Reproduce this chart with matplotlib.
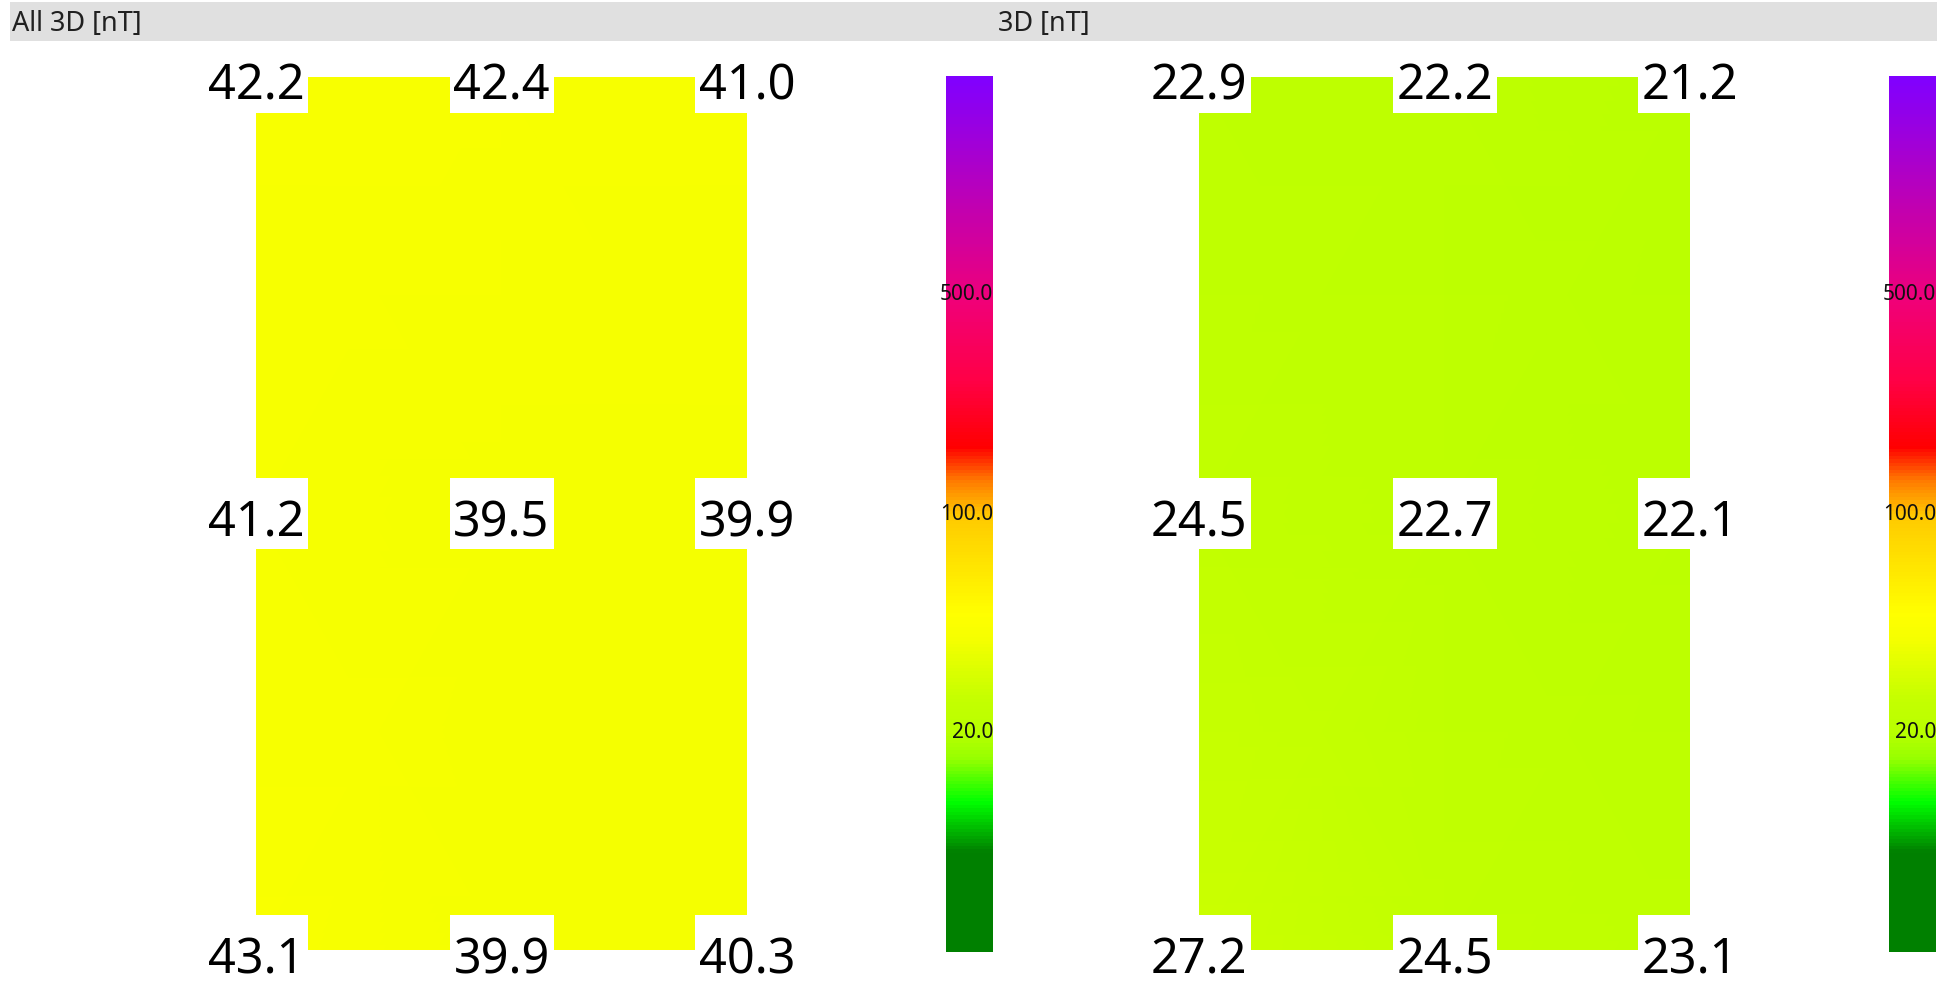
import matplotlib
matplotlib.use("Agg")
import matplotlib.pyplot as plt
import matplotlib.colors as mcolors
import matplotlib.transforms as mtransforms
from matplotlib.patches import Rectangle
from matplotlib.cm import ScalarMappable

plt.rcParams['font.family'] = ['Noto Sans', 'DejaVu Sans']

# valores de los puntos de medida (fila superior, media, inferior)
titulos = ['All 3D [nT]', '3D [nT]']
valores_all3d = [[42.2, 42.4, 41.0],
                 [41.2, 39.5, 39.9],
                 [43.1, 39.9, 40.3]]
valores_3d = [[22.9, 22.2, 21.2],
              [24.5, 22.7, 22.1],
              [27.2, 24.5, 23.1]]
escala_min = 4
escala_max = 2500
ticks_escala = [20, 100, 500]

# mapa de colores de la escala (verde -> amarillo -> rojo -> violeta)
H = 876.0
paradas = [
    (0.0, (0, 128, 0)),
    ((952 - 853) / H, (0, 128, 0)),
    ((952 - 803) / H, (0, 255, 0)),
    ((952 - 760) / H, (150, 255, 0)),
    ((952 - 734) / H, (184, 255, 0)),
    ((952 - 700) / H, (196, 255, 0)),
    ((952 - 640) / H, (245, 255, 0)),
    ((952 - 615) / H, (255, 255, 0)),
    ((952 - 540) / H, (255, 215, 0)),
    ((952 - 515) / H, (255, 200, 0)),
    ((952 - 480) / H, (255, 120, 0)),
    ((952 - 447) / H, (255, 0, 0)),
    ((952 - 380) / H, (255, 0, 70)),
    ((952 - 300) / H, (240, 0, 120)),
    (1.0, (128, 0, 255)),
]
cmap = mcolors.LinearSegmentedColormap.from_list(
    'escala', [(p, tuple(c / 255 for c in col)) for p, col in paradas])
norm = mcolors.LogNorm(vmin=escala_min, vmax=escala_max)

W, Hfig = 1944, 981
fig = plt.figure(figsize=(W / 100, Hfig / 100), dpi=100)


def rect(x0, y0, x1, y1):
    return [x0 / W, 1 - y1 / Hfig, (x1 - x0) / W, (y1 - y0) / Hfig]


# barra gris de cabecera
fig.patches.append(Rectangle((10 / W, 1 - 41 / Hfig), (1937 - 10) / W, 39 / Hfig,
                             transform=fig.transFigure, facecolor='#e0e0e0',
                             edgecolor='none', zorder=0))

paneles = [valores_all3d, valores_3d]
offsets = [0, 943]
titulo_x = [12, 998]

for datos, titulo, dx, tx in zip(paneles, titulos, offsets, titulo_x):
    fig.text(tx / W, 1 - 24 / Hfig, titulo, fontsize=19.5, va='center', ha='left',
             color='#202020')

    ax = fig.add_axes(rect(256 + dx, 77, 747 + dx, 950))
    xs = [0, 1, 2]
    ys = [0, 1, 2]
    ax.pcolormesh(xs, ys, datos, shading='gouraud', cmap=cmap, norm=norm)
    ax.set_xlim(0, 2)
    ax.set_ylim(2, 0)
    ax.axis('off')

    trans = mtransforms.offset_copy(ax.transData, fig=fig, x=0, y=-23, units='dots')
    for i, fila in enumerate(datos):
        for j, v in enumerate(fila):
            etiqueta = f'{v:.1f}'
            # caja blanca centrada en el punto de medida
            caja = Rectangle((-52, -35.5), 104, 71, facecolor='white', edgecolor='none',
                             transform=mtransforms.ScaledTranslation(xs[j], ys[i], ax.transData),
                             clip_on=False, zorder=4)
            ax.add_patch(caja)
            ax.text(xs[j], ys[i], etiqueta, fontsize=35, ha='center', va='baseline',
                    transform=trans, clip_on=False, zorder=5)

    cax = fig.add_axes(rect(946 + dx, 76, 993 + dx, 952))
    cb = fig.colorbar(ScalarMappable(norm=norm, cmap=cmap), cax=cax)
    cb.set_ticks([])
    cb.minorticks_off()
    cb.outline.set_visible(False)
    tr = mtransforms.blended_transform_factory(cax.transAxes, cax.transData)
    for t in ticks_escala:
        cax.text(1.0, t, f'{t:.1f}', transform=tr, ha='right', va='center',
                 fontsize=15, color='#101010', clip_on=False)

fig.savefig('out.png', dpi=100, facecolor='white')
